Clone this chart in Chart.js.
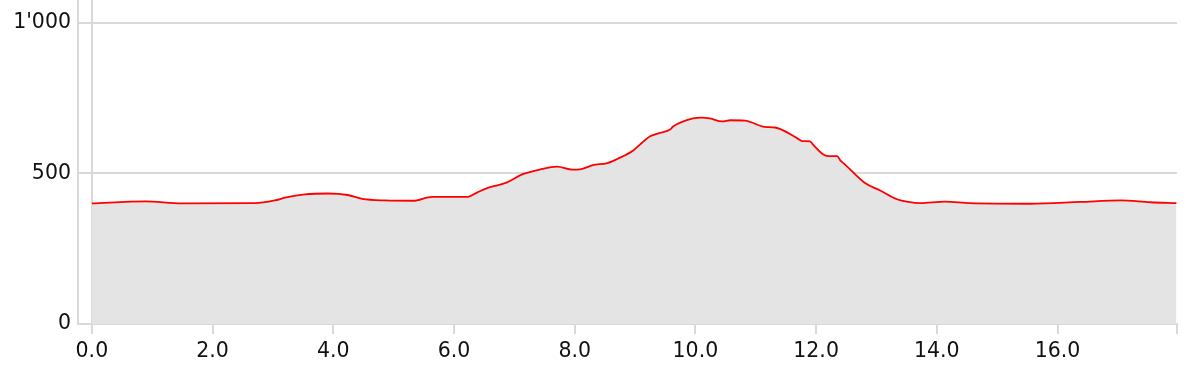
<!DOCTYPE html>
<html>
<head>
<meta charset="utf-8">
<script src="https://cdn.jsdelivr.net/npm/chart.js@4/dist/chart.umd.min.js"></script>
<style>
  html, body { margin: 0; padding: 0; background: #fff; }
  canvas { display: block; }
</style>
</head>
<body>
<canvas id="profileChart" width="1200" height="377"></canvas>
<script>
// elevation profile: distance (km) vs altitude (m)
const distances = [0, 0.88, 1.49, 2.70, 3.03, 3.20, 3.53, 3.91, 4.24, 4.48, 4.86, 5.32, 5.64, 6.23, 6.38, 6.55, 6.68, 6.88, 7.14, 7.43, 7.71, 7.96, 8.09, 8.30, 8.54, 8.72, 8.97, 9.08, 9.25, 9.41, 9.58, 9.63, 9.96, 10.11, 10.24, 10.44, 10.58, 10.82, 11.15, 11.32, 11.69, 11.77, 11.90, 11.95, 12.12, 12.20, 12.35, 12.40, 12.48, 12.81, 13.06, 13.34, 13.53, 13.72, 14.14, 14.55, 15.55, 16.38, 17.04, 17.54, 17.97];
const altitudes = [400, 407, 400, 401, 410, 419, 430, 433, 428, 415, 410, 409, 422, 422, 436, 451, 458, 470, 497, 513, 522, 512, 513, 527, 534, 549, 576, 595, 623, 634, 645, 655, 682, 685, 682, 672, 676, 675, 654, 652, 616, 607, 606, 595, 562, 557, 557, 543, 529, 468, 443, 414, 405, 401, 406, 401, 399, 405, 410, 404, 401];

// axis ticks
const xTicks = [0, 2, 4, 6, 8, 10, 12, 14, 16];
const yTicks = [0, 500, 1000];
const xMin = -0.23, xMax = 17.98, yMax = 1075;

const gridGrey = "#d9d9d9";
const labelFont = { family: "DejaVu Sans", size: 20.5 };

function swissNumber(v) {
  return String(v).replace(/\B(?=(\d{3})+(?!\d))/g, "'");
}

const points = distances.map((d, i) => ({ x: d, y: altitudes[i] }));

new Chart(document.getElementById("profileChart").getContext("2d"), {
  type: "line",
  data: {
    datasets: [{
      data: points,
      borderColor: "#ff0000",
      borderWidth: 1.8,
      backgroundColor: "#e4e4e4",
      fill: "origin",
      pointRadius: 0,
      cubicInterpolationMode: "monotone"
    }]
  },
  options: {
    responsive: false,
    animation: false,
    layout: { padding: { top: 0, right: 23, left: 0, bottom: 0 } },
    plugins: { legend: { display: false }, tooltip: { enabled: false } },
    scales: {
      x: {
        type: "linear",
        min: xMin,
        max: xMax,
        afterBuildTicks: s => { s.ticks = xTicks.concat([xMax]).map(v => ({ value: v })); },
        afterFit: s => { s.height = 53; },
        border: { display: true, color: gridGrey, width: 2 },
        grid: {
          color: c => (c.tick && c.tick.value === 0 ? gridGrey : "rgba(0,0,0,0)"),
          tickColor: gridGrey,
          lineWidth: 2,
          tickLength: 10
        },
        ticks: {
          color: "#111",
          font: labelFont,
          padding: 5,
          maxRotation: 0,
          autoSkip: false,
          callback: v => (v === xMax ? "" : v.toFixed(1))
        }
      },
      y: {
        min: 0,
        max: yMax,
        afterBuildTicks: s => { s.ticks = yTicks.map(v => ({ value: v })); },
        // label of the top tick sits inside the plot, so no extra top padding
        afterFit: s => { s.width = 78; s.paddingTop = 0; s.paddingBottom = 0; },
        border: { display: true, color: gridGrey, width: 2 },
        grid: { color: gridGrey, lineWidth: 2, drawTicks: false },
        ticks: {
          color: "#111",
          font: labelFont,
          padding: 7,
          callback: v => swissNumber(v)
        }
      }
    }
  }
});
</script>
</body>
</html>
